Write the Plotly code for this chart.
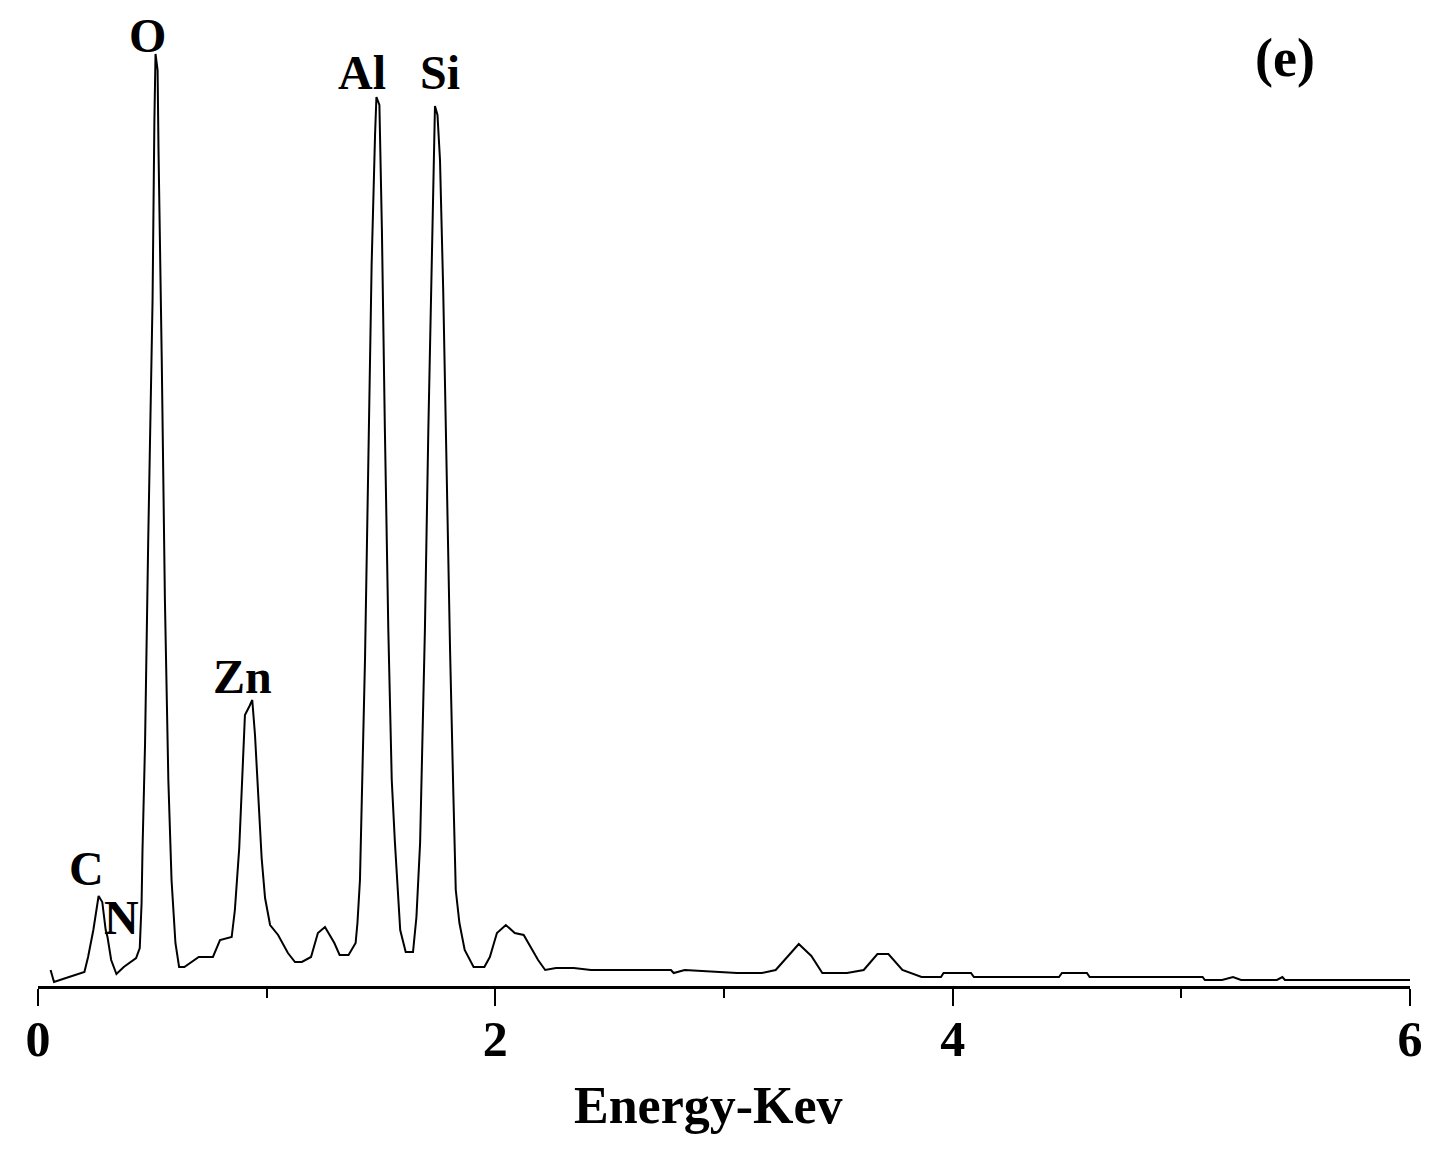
import plotly.graph_objects as go

# EDS spectrum (energy in keV, intensity in arbitrary units)
energy_kev = [
    0.055, 0.070, 0.109, 0.203, 0.219, 0.242, 0.265, 0.281, 0.296, 0.304,
    0.320, 0.343, 0.375, 0.429, 0.445, 0.453, 0.457, 0.468, 0.482, 0.501,
    0.509, 0.514, 0.523, 0.527, 0.541, 0.555, 0.570, 0.584, 0.601, 0.617,
    0.640, 0.703, 0.765, 0.796, 0.847, 0.861, 0.880, 0.891, 0.905, 0.925,
    0.937, 0.949, 0.963, 0.978, 0.993, 1.015, 1.050, 1.093, 1.124, 1.154,
    1.194, 1.224, 1.255, 1.296, 1.319, 1.358, 1.389, 1.397, 1.408, 1.417,
    1.430, 1.444, 1.459, 1.474, 1.480, 1.493, 1.504, 1.517, 1.532, 1.547,
    1.561, 1.584, 1.608, 1.640, 1.655, 1.671, 1.678, 1.692, 1.707, 1.722,
    1.733, 1.736, 1.747, 1.758, 1.772, 1.787, 1.802, 1.816, 1.827, 1.843,
    1.866, 1.905, 1.952, 1.976, 2.007, 2.046, 2.085, 2.124, 2.155, 2.187,
    2.218, 2.265, 2.343, 2.418, 2.563, 2.768, 2.780, 2.828, 3.057, 3.165,
    3.226, 3.274, 3.327, 3.382, 3.430, 3.538, 3.611, 3.671, 3.719, 3.780,
    3.864, 3.949, 3.960, 4.080, 4.093, 4.465, 4.478, 4.587, 4.599, 5.093,
    5.103, 5.178, 5.226, 5.261, 5.418, 5.442, 5.453, 6.000,
]
intensity = [
    16, 4, 7, 14, 29, 56, 90, 84, 56, 49,
    26, 12, 19, 28, 38, 83, 136, 241, 446, 686,
    866, 932, 916, 836, 629, 386, 206, 106, 43, 19,
    19, 29, 29, 46, 49, 76, 138, 203, 271, 280,
    286, 251, 193, 128, 88, 61, 51, 33, 24, 24,
    29, 53, 59, 43, 31, 31, 43, 63, 106, 186,
    326, 516, 721, 851, 889, 881, 756, 556, 356, 206,
    143, 56, 34, 34, 69, 143, 206, 356, 556, 726,
    836, 880, 871, 826, 696, 511, 336, 196, 96, 63,
    36, 19, 19, 29, 53, 61, 53, 51, 38, 26,
    16, 18, 18, 16, 16, 16, 13, 16, 13, 13,
    16, 28, 42, 30, 13, 13, 16, 32, 32, 16,
    9, 9, 13, 13, 9, 9, 13, 13, 9, 9,
    6, 6, 9, 6, 6, 9, 6, 6,
]

# Element labels (text, energy position, intensity position)
peak_labels = ["O", "Al", "Si", "Zn", "C", "N"]
label_x = [0.477, 1.417, 1.758, 0.896, 0.210, 0.367]
label_y = [951, 914, 914, 310, 118, 69]

panel_label = "(e)"
x_ticks = [0, 2, 4, 6]
x_title = "Energy-Kev"

FONT = "Liberation Serif"

fig = go.Figure()
fig.add_trace(go.Scatter(
    x=energy_kev, y=intensity, mode="lines",
    line=dict(color="black", width=2),
    showlegend=False, hoverinfo="skip",
))

for t, xx, yy in zip(peak_labels, label_x, label_y):
    fig.add_annotation(
        x=xx, y=yy, xref="x", yref="y", text=t, showarrow=False,
        xanchor="center", yanchor="middle",
        font=dict(family=FONT, size=48, color="black", weight="bold"),
    )

fig.add_annotation(
    x=5.453, y=928, xref="x", yref="y", text=panel_label, showarrow=False,
    xanchor="center", yanchor="middle",
    font=dict(family=FONT, size=54, color="black", weight="bold"),
)

fig.add_annotation(
    x=0.489, y=-0.1217, xref="paper", yref="paper", text=x_title, showarrow=False,
    xanchor="center", yanchor="middle",
    font=dict(family=FONT, size=52, color="black", weight="bold"),
)

fig.update_xaxes(
    range=[0, 6], showgrid=False, zeroline=False,
    showline=True, linecolor="black", linewidth=3,
    ticks="outside", ticklen=17, tickwidth=2, tickcolor="black",
    tickvals=x_ticks, ticktext=[str(v) for v in x_ticks],
    tickfont=dict(family=FONT, size=50, color="black", weight="bold"),
    ticklabelstandoff=-10,
    minor=dict(ticks="outside", ticklen=9, tickwidth=2, tickcolor="black", dtick=1, showgrid=False),
)
fig.update_yaxes(range=[0, 978], visible=False, showgrid=False, zeroline=False)

fig.update_layout(
    width=1441, height=1155,
    margin=dict(l=30, r=39, t=0, b=177),
    plot_bgcolor="white", paper_bgcolor="white",
)

fig.write_html("out.html")
